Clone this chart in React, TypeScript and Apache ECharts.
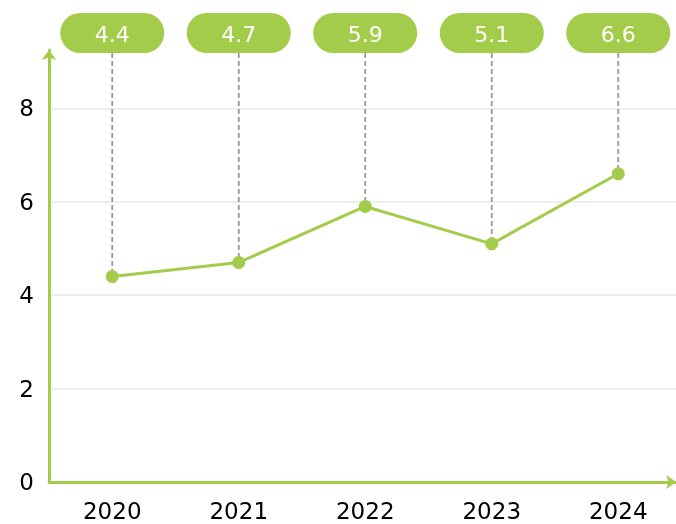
import React, { useEffect, useRef } from "react";
import * as echarts from "echarts";

const categories = ["2020", "2021", "2022", "2023", "2024"];
const values = [4.4, 4.7, 5.9, 5.1, 6.6];
const yTicks = [0, 2, 4, 6, 8];

const GREEN = "#a4cc4b";
const FONT = "'DejaVu Sans', 'Noto Sans', sans-serif";

export default function App() {
  const ref = useRef<HTMLDivElement>(null);
  useEffect(() => {
    if (!ref.current) return;
    const chart = echarts.init(ref.current, undefined, { renderer: "svg" });
    chart.setOption({
      animation: false,
      grid: {
        left: 49,
        width: 632.5,
        top: 50,
        height: 432,
        containLabel: false,
        outerBoundsMode: "none",
      },
      xAxis: {
        type: "category",
        data: categories,
        boundaryGap: true,
        axisLine: {
          show: true,
          lineStyle: { color: GREEN, width: 3 },
          symbol: ["none", "arrow"],
          symbolSize: [11, 10],
          symbolOffset: [0, -5.5],
        },
        axisTick: { show: false },
        axisLabel: { color: "#000", fontSize: 23, fontFamily: FONT, margin: 17 },
        splitLine: { show: false },
      },
      yAxis: {
        type: "value",
        min: yTicks[0],
        max: 9.25,
        interval: 2,
        axisLine: {
          show: true,
          lineStyle: { color: GREEN, width: 3 },
          symbol: ["none", "arrow"],
          symbolSize: [11, 10],
        },
        axisTick: { show: false },
        axisLabel: {
          color: "#000",
          fontSize: 23,
          fontFamily: FONT,
          margin: 15,
          showMaxLabel: false,
          formatter: (v: number) => (yTicks.includes(v) ? String(v) : ""),
        },
        splitLine: {
          show: true,
          lineStyle: {
            color: ["#e8e8e8", "#e8e8e8", "#e8e8e8", "#e8e8e8", "#e8e8e8", "rgba(0,0,0,0)"],
            width: 1.5,
          },
        },
      },
      series: [
        {
          type: "custom",
          z: 1,
          clip: false,
          data: values.map((v, i) => [i, v]),
          renderItem: (params: any, api: any) => {
            const pt = api.coord([api.value(0), api.value(1)]);
            const x = pt[0];
            const w = 104;
            const h = 40;
            const top = 13;
            return {
              type: "group",
              children: [
                {
                  type: "line",
                  shape: { x1: x, y1: top + h, x2: x, y2: pt[1] },
                  style: { stroke: "#999999", lineWidth: 1.8, lineDash: [5, 3] },
                },
                {
                  type: "rect",
                  shape: { x: x - w / 2, y: top, width: w, height: h, r: h / 2 },
                  style: { fill: GREEN },
                },
                {
                  type: "text",
                  x: x,
                  y: top + h / 2 + 1,
                  style: {
                    text: String(api.value(1)),
                    fill: "#fff",
                    fontSize: 22,
                    fontFamily: FONT,
                    align: "center",
                    verticalAlign: "middle",
                  },
                },
              ],
            };
          },
        },
        {
          type: "line",
          z: 3,
          data: values,
          symbol: "circle",
          symbolSize: 13,
          lineStyle: { color: GREEN, width: 3 },
          itemStyle: { color: GREEN },
          label: { show: false },
        },
      ],
    });
    return () => chart.dispose();
  }, []);
  return (
    <div
      ref={ref}
      style={{ position: "fixed", left: 0, top: 0, width: 676, height: 524 }}
    />
  );
}
